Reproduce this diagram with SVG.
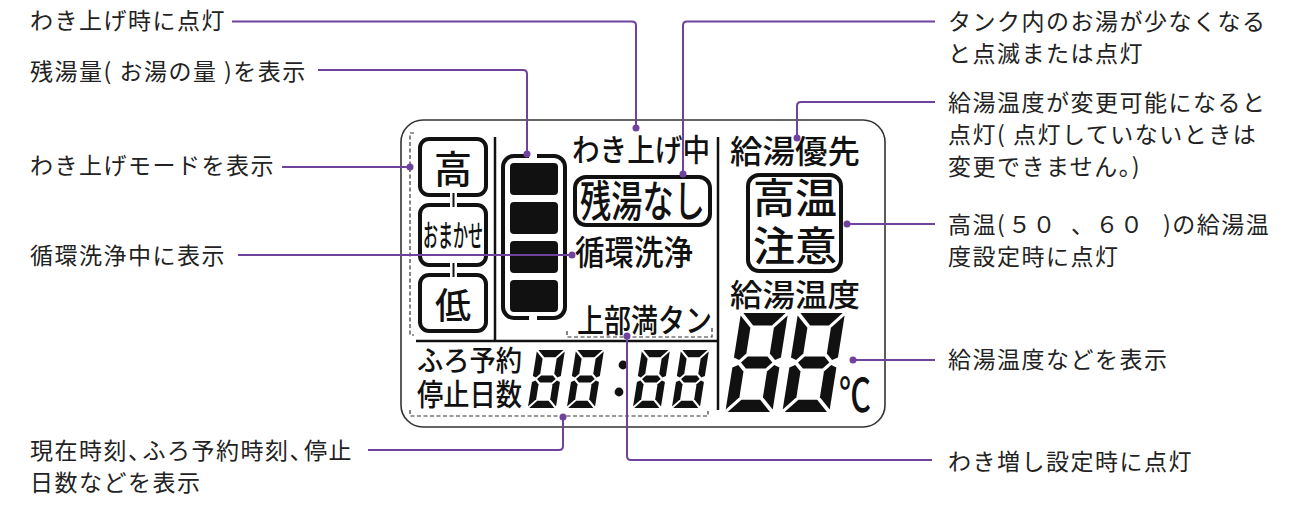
<svg xmlns="http://www.w3.org/2000/svg" xmlns:xlink="http://www.w3.org/1999/xlink" width="1303" height="506" viewBox="0 0 1303 506">
<style>
.lbl{font-family:"Noto Sans CJK JP","Noto Sans",sans-serif;font-size:23px;letter-spacing:1.5px;fill:#222}
.lcd{font-family:"Noto Sans CJK JP","Noto Sans",sans-serif;font-weight:500;fill:#111}
.box{fill:none;stroke:#111;stroke-width:4}
.sep{stroke:#111;stroke-width:2.5;fill:none}
.dash{stroke:#333;stroke-width:1.2;fill:none;stroke-dasharray:4 2.5}
.con{fill:none;stroke:#6f429d;stroke-width:2}
.dot{fill:#6f429d}
.seg{fill:#111}
</style>
<defs>
<g id="d8" class="seg">
<polygon points="1.5,0 28.5,0 21,7.5 9,7.5"/>
<polygon points="1.5,60 28.5,60 21,52.5 9,52.5"/>
<polygon points="0,1.5 7.5,9 7.5,24.5 3.5,28.5 0,27"/>
<polygon points="30,1.5 30,27 26.5,28.5 22.5,24.5 22.5,9"/>
<polygon points="0,33 3.5,31.5 7.5,35.5 7.5,51 0,58.5"/>
<polygon points="30,33 30,58.5 22.5,51 22.5,35.5 26.5,31.5"/>
<polygon points="5,30 8.7,26.3 21.3,26.3 25,30 21.3,33.7 8.7,33.7"/>
</g>
</defs>
<rect width="1303" height="506" fill="#fff"/>

<g id="panel">
<rect x="401" y="120" width="484" height="307" rx="22" fill="none" stroke="#333" stroke-width="1.6"/>
<path class="dash" d="M414,133 H410 V335 H414"/>
<line class="sep" x1="495" y1="137" x2="495" y2="341"/>
<line class="sep" x1="416" y1="341" x2="718" y2="341"/>
<line class="sep" x1="718" y1="137" x2="718" y2="410"/>
<path class="dash" d="M567,331 V337 H712 V326"/>
<path class="dash" d="M410,410 V416 H708 V411"/>
</g>

<g id="mode-high">
<rect class="box" x="420" y="139" width="66" height="56" rx="9"/>
<text class="lcd" x="453" y="183" font-size="38" text-anchor="middle">高</text>
</g>
<g id="mode-auto">
<rect class="box" x="420" y="205" width="66" height="60" rx="9"/>
<text class="lcd" x="423" y="246" font-size="30" textLength="60" lengthAdjust="spacingAndGlyphs">おまかせ</text>
</g>
<g id="mode-low">
<rect class="box" x="420" y="275" width="66" height="56" rx="9"/>
<text class="lcd" x="453" y="319" font-size="36" text-anchor="middle">低</text>
</g>
<g id="mode-joints">
<rect x="450" y="191" width="7" height="18" fill="#fff"/>
<rect x="450" y="261" width="7" height="18" fill="#fff"/>
<line x1="453.5" y1="193" x2="453.5" y2="207" stroke="#111" stroke-width="2"/>
<line x1="453.5" y1="263" x2="453.5" y2="277" stroke="#111" stroke-width="2"/>
</g>

<g id="gauge">
<rect class="box" x="503" y="156" width="62" height="162" rx="11"/>
<rect x="529" y="152" width="8" height="8" fill="#fff"/>
<rect x="529" y="314" width="8" height="8" fill="#fff"/>
<rect x="510" y="163" width="48" height="32" rx="4" fill="#111"/>
<rect x="510" y="202" width="48" height="32" rx="4" fill="#111"/>
<rect x="510" y="241" width="48" height="32" rx="4" fill="#111"/>
<rect x="510" y="280" width="48" height="32" rx="4" fill="#111"/>
</g>

<g id="waki-age-chu">
<text class="lcd" x="572" y="161" font-size="31" textLength="138" lengthAdjust="spacingAndGlyphs">わき上げ中</text>
</g>
<g id="zanyu-nashi">
<rect class="box" x="575" y="177" width="135" height="48" rx="11"/>
<text class="lcd" x="580" y="217" font-size="43" textLength="125" lengthAdjust="spacingAndGlyphs">残湯なし</text>
</g>
<g id="junkan-senjo">
<text class="lcd" x="575" y="265" font-size="34" textLength="118" lengthAdjust="spacingAndGlyphs">循環洗浄</text>
</g>
<g id="jobu-mantan">
<text class="lcd" x="577" y="332" font-size="32" textLength="135" lengthAdjust="spacingAndGlyphs">上部満タン</text>
</g>
<g id="furo-yoyaku">
<text class="lcd" x="417" y="371" font-size="28" textLength="105" lengthAdjust="spacingAndGlyphs">ふろ予約</text>
<text class="lcd" x="417" y="405" font-size="30" textLength="105" lengthAdjust="spacingAndGlyphs">停止日数</text>
</g>
<g id="clock">
<use xlink:href="#d8" href="#d8" transform="translate(537,350) skewX(-9) scale(0.933,0.967)"/>
<use xlink:href="#d8" href="#d8" transform="translate(576,350) skewX(-9) scale(0.933,0.967)"/>
<use xlink:href="#d8" href="#d8" transform="translate(642,350) skewX(-9) scale(0.933,0.967)"/>
<use xlink:href="#d8" href="#d8" transform="translate(681,350) skewX(-9) scale(0.933,0.967)"/>
<circle cx="623" cy="365" r="4.4" fill="#111"/>
<circle cx="619" cy="392" r="4.4" fill="#111"/>
</g>
<g id="kyuto-yusen">
<text class="lcd" x="730" y="163" font-size="32" textLength="130" lengthAdjust="spacingAndGlyphs">給湯優先</text>
</g>
<g id="koon-chui">
<rect class="box" x="748" y="175" width="93" height="96" rx="11"/>
<text class="lcd" x="753" y="213" font-size="41" textLength="84" lengthAdjust="spacingAndGlyphs">高温</text>
<text class="lcd" x="753" y="261" font-size="41" textLength="84" lengthAdjust="spacingAndGlyphs">注意</text>
</g>
<g id="kyuto-ondo">
<text class="lcd" x="730" y="306" font-size="31" textLength="130" lengthAdjust="spacingAndGlyphs">給湯温度</text>
<use xlink:href="#d8" href="#d8" transform="translate(741,313) skewX(-9) scale(1.567,1.65)"/>
<use xlink:href="#d8" href="#d8" transform="translate(798,313) skewX(-9) scale(1.567,1.65)"/>
<text class="lcd" x="839" y="411" font-size="46" font-weight="400" textLength="32" lengthAdjust="spacingAndGlyphs">℃</text>
</g>

<g id="connectors">
<path class="con" d="M232,21.5 H632 Q636,21.5 636,25.5 V128"/>
<path class="con" d="M318,70 H523 Q527,70 527,74 V154"/>
<path class="con" d="M282,167 H410"/>
<path class="con" d="M238,255 H572"/>
<path class="con" d="M368,450 H559 Q563,450 563,446 V417"/>
<path class="con" d="M627,336 V456 Q627,460 631,460 H932"/>
<path class="con" d="M935,21.5 H687 Q683,21.5 683,25.5 V174"/>
<path class="con" d="M935,102 H801 Q797,102 797,106 V138"/>
<path class="con" d="M935,224 H847"/>
<path class="con" d="M935,360 H853"/>
<circle class="dot" cx="636" cy="128" r="3.5"/>
<circle class="dot" cx="527" cy="154" r="3.5"/>
<circle class="dot" cx="410" cy="167" r="3.5"/>
<circle class="dot" cx="572" cy="255" r="3.5"/>
<circle class="dot" cx="563" cy="417" r="3.5"/>
<circle class="dot" cx="627" cy="336" r="3.5"/>
<circle class="dot" cx="683" cy="174" r="3.5"/>
<circle class="dot" cx="797" cy="138" r="3.5"/>
<circle class="dot" cx="847" cy="224" r="3.5"/>
<circle class="dot" cx="853" cy="360" r="3.5"/>
</g>

<g id="label-waki-age">
<text class="lbl" x="30" y="29">わき上げ時に点灯</text>
</g>
<g id="label-zanyu">
<text class="lbl" x="30" y="80">残湯量( お湯の量 )を表示</text>
</g>
<g id="label-mode">
<text class="lbl" x="30" y="174">わき上げモードを表示</text>
</g>
<g id="label-junkan">
<text class="lbl" x="30" y="264">循環洗浄中に表示</text>
</g>
<g id="label-clock">
<text class="lbl" x="30" y="459">現在時刻、<tspan dx="-10">ふろ予約時刻、</tspan><tspan dx="-10">停止</tspan></text>
<text class="lbl" x="30" y="491">日数などを表示</text>
</g>
<g id="label-tank">
<text class="lbl" x="948" y="30">タンク内のお湯が少なくなる</text>
<text class="lbl" x="948" y="62">と点滅または点灯</text>
</g>
<g id="label-yusen">
<text class="lbl" x="948" y="111">給湯温度が変更可能になると</text>
<text class="lbl" x="948" y="143">点灯( 点灯していないときは</text>
<text class="lbl" x="948" y="175">変更できません。)</text>
</g>
<g id="label-koon">
<text class="lbl" y="233"><tspan x="948">高温(</tspan><tspan x="1008">５０</tspan><tspan x="1071">、６０</tspan><tspan x="1163">)の給湯温</tspan></text>
<text class="lbl" x="948" y="265">度設定時に点灯</text>
</g>
<g id="label-ondo">
<text class="lbl" x="948" y="368">給湯温度などを表示</text>
</g>
<g id="label-wakimashi">
<text class="lbl" x="948" y="470">わき増し設定時に点灯</text>
</g>
</svg>
